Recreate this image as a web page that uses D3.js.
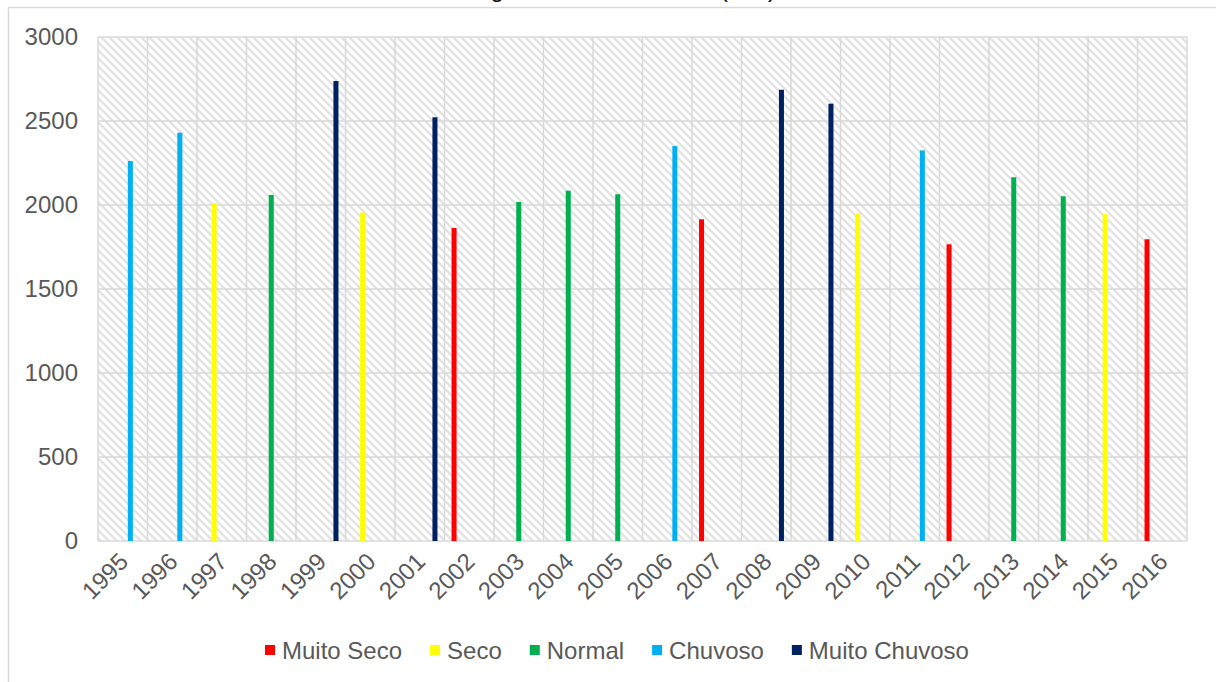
<!DOCTYPE html>
<html>
<head>
<meta charset="utf-8">
<script src="https://cdn.jsdelivr.net/npm/d3@7"></script>
<style>
  html, body { margin: 0; padding: 0; background: #fff; }
  svg { display: block; }
  text { font-family: "Liberation Sans", Arial, sans-serif; fill: #595959; }
</style>
</head>
<body>
<svg id="chart" width="1216" height="682"></svg>
<script>
// Annual rainfall (mm) per year, grouped by class
const years = ["1995","1996","1997","1998","1999","2000","2001","2002","2003","2004","2005",
               "2006","2007","2008","2009","2010","2011","2012","2013","2014","2015","2016"];
const seriesNames = ["Muito Seco", "Seco", "Normal", "Chuvoso", "Muito Chuvoso"];
const seriesColors = ["#ff0000", "#ffff00", "#00b050", "#00b0f0", "#002060"];
// one value per year, in the series the year belongs to (null elsewhere)
const muitoSeco    = [null,null,null,null,null,null,null,1863,null,null,null,null,1915,null,null,null,null,1766,null,null,null,1796];
const seco         = [null,null,2010,null,null,1955,null,null,null,null,null,null,null,null,null,1950,null,null,null,null,1946,null];
const normal       = [null,null,null,2060,null,null,null,null,2018,2085,2064,null,null,null,null,null,null,null,2165,2052,null,null];
const chuvoso      = [2262,2430,null,null,null,null,null,null,null,null,null,2351,null,null,null,null,2325,null,null,null,null,null];
const muitoChuvoso = [null,null,null,null,2738,null,2522,null,null,null,null,null,null,2686,2603,null,null,null,null,null,null,null];
const yTicks = [0, 500, 1000, 1500, 2000, 2500, 3000];
const titleText = "Categoria da chuva anual (mm)";

const seriesValues = [muitoSeco, seco, normal, chuvoso, muitoChuvoso];
const FONT = "'Liberation Sans', Arial, sans-serif";

const svg = d3.select("#chart");
const plot = { left: 98, right: 1187, top: 37, bottom: 541 };

// outer chart frame
svg.append("rect")
  .attr("x", 8.5).attr("y", 7.5).attr("width", 1220).attr("height", 700)
  .attr("fill", "none").attr("stroke", "#d9d9d9").attr("stroke-width", 1.5);

// title (sits at the very top edge)
svg.append("text")
  .attr("x", 608).attr("y", -3)
  .attr("text-anchor", "middle")
  .style("font-size", "24px").style("fill", "#000")
  .text(titleText);

// hatched plot background: light downward diagonal stripes
const defs = svg.append("defs");
const pat = defs.append("pattern")
  .attr("id", "hatch").attr("patternUnits", "userSpaceOnUse")
  .attr("width", 8).attr("height", 8);
pat.append("rect").attr("width", 8).attr("height", 8).attr("fill", "#ffffff");
pat.append("path")
  .attr("d", "M-2,-2 L10,10 M-6,2 L2,10 M6,-2 L10,2")
  .attr("stroke", "#e3e3e3").attr("stroke-width", 2.4);

const x = d3.scaleBand().domain(years).range([plot.left, plot.right]).paddingInner(0).paddingOuter(0);
const y = d3.scaleLinear().domain([0, 3000]).range([plot.bottom, plot.top]);
const inner = d3.scaleBand().domain(seriesNames).range([-19, 19]).paddingInner(0.34).paddingOuter(0.17);

svg.append("rect")
  .attr("x", plot.left).attr("y", plot.top)
  .attr("width", plot.right - plot.left).attr("height", plot.bottom - plot.top)
  .attr("fill", "url(#hatch)");

// gridlines
const grid = svg.append("g").attr("stroke", "#d9d9d9").attr("stroke-width", 1.5);
grid.selectAll("line.h").data(yTicks).join("line")
  .attr("x1", plot.left).attr("x2", plot.right)
  .attr("y1", d => y(d)).attr("y2", d => y(d));
const bounds = years.map(d => x(d)).concat([x(years[years.length - 1]) + x.bandwidth()]);
grid.selectAll("line.v").data(bounds).join("line")
  .attr("x1", d => d).attr("x2", d => d)
  .attr("y1", plot.top).attr("y2", plot.bottom);

// bars
seriesNames.forEach((name, si) => {
  const rows = years.map((yr, i) => ({ yr, v: seriesValues[si][i] })).filter(d => d.v != null);
  svg.append("g").selectAll("rect").data(rows).join("rect")
    .attr("x", d => x(d.yr) + x.bandwidth() / 2 + inner(name))
    .attr("width", inner.bandwidth())
    .attr("y", d => y(d.v))
    .attr("height", d => y(0) - y(d.v))
    .attr("fill", seriesColors[si]);
});

// y axis
const yAxis = svg.append("g")
  .attr("transform", `translate(${plot.left},0)`)
  .call(d3.axisLeft(y).tickValues(yTicks).tickFormat(d3.format("d")).tickSize(0).tickPadding(20));
yAxis.select(".domain").remove();
yAxis.selectAll("text").style("font-size", "24px").style("fill", "#595959").style("font-family", FONT);

// x axis with rotated labels
const xAxis = svg.append("g")
  .attr("transform", `translate(0,${plot.bottom})`)
  .call(d3.axisBottom(x).tickSize(0).tickPadding(0));
xAxis.select(".domain").remove();
xAxis.selectAll("text")
  .style("font-size", "24px").style("fill", "#595959").style("font-family", FONT)
  .attr("text-anchor", "end")
  .attr("dy", null).attr("y", 0)
  .attr("transform", "translate(7,22) rotate(-45)");

// legend
const legend = svg.append("g").attr("transform", "translate(0,650)");
let lx = 265;
seriesNames.forEach((name, i) => {
  legend.append("rect").attr("x", lx).attr("y", -5).attr("width", 10).attr("height", 10)
    .attr("fill", seriesColors[i]);
  const t = legend.append("text").attr("x", lx + 17).attr("y", 8.5)
    .style("font-size", "24px").text(name);
  lx += 17 + t.node().getComputedTextLength() + 28;
});
</script>
</body>
</html>
